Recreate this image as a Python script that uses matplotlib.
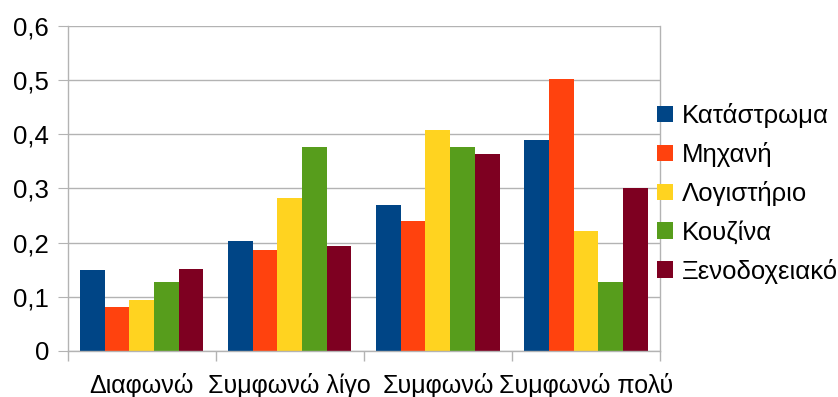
import numpy as np
import matplotlib.pyplot as plt

plt.rcParams['font.family'] = ['Liberation Sans', 'DejaVu Sans']

categories = ['Διαφωνώ', 'Συμφωνώ λίγο', 'Συμφωνώ', 'Συμφωνώ πολύ']
series = ['Κατάστρωμα', 'Μηχανή', 'Λογιστήριο', 'Κουζίνα', 'Ξενοδοχειακό']
katastroma = [0.149, 0.203, 0.269, 0.389]
mixani = [0.081, 0.186, 0.240, 0.502]
logistirio = [0.095, 0.282, 0.408, 0.221]
kouzina = [0.127, 0.376, 0.376, 0.127]
xenodoxeiako = [0.151, 0.193, 0.363, 0.300]
colors = ['#004586', '#ff420e', '#ffd320', '#579d1c', '#7e0021']

values = [katastroma, mixani, logistirio, kouzina, xenodoxeiako]

fig = plt.figure(figsize=(8.38, 3.97), dpi=100)
ax = fig.add_axes([0.0806, 0.1159, 0.7070, 0.8186])

x = np.arange(len(categories))
w = 1 / 6
for i, (name, vals) in enumerate(zip(series, values)):
    ax.bar(x + (i - 2) * w, vals, width=w, color=colors[i], label=name, zorder=2)

ax.set_xlim(-0.5, len(categories) - 0.5)
ax.set_ylim(0, 0.6)
ax.set_yticks(np.arange(0, 0.61, 0.1))
ax.set_yticklabels(['0'] + [f'0,{i}' for i in range(1, 7)])
ax.set_xticks(x)
ax.set_xticklabels(categories)
# category separators below the axis
ax.set_xticks(np.arange(-0.5, len(categories), 1), minor=True)

grid_col = '#b3b3b3'
ax.grid(axis='y', color=grid_col, linewidth=1, zorder=0)
ax.spines['top'].set_visible(False)
for s in ['left', 'bottom', 'right']:
    ax.spines[s].set_color(grid_col)
    ax.spines[s].set_linewidth(1)
ax.tick_params(axis='y', length=7.2, color=grid_col, labelsize=18.5, pad=6)
ax.tick_params(axis='x', which='major', length=0, labelsize=18, pad=15.5)
ax.tick_params(axis='x', which='minor', length=7.2, color=grid_col, width=1)

ax.legend(loc='center left', bbox_to_anchor=(0.995, 0.485), frameon=False,
          fontsize=18.5, handlelength=0.62, handleheight=0.6,
          handletextpad=0.35, labelspacing=0.55, borderaxespad=0, borderpad=0)

fig.savefig('out.png', dpi=100)
